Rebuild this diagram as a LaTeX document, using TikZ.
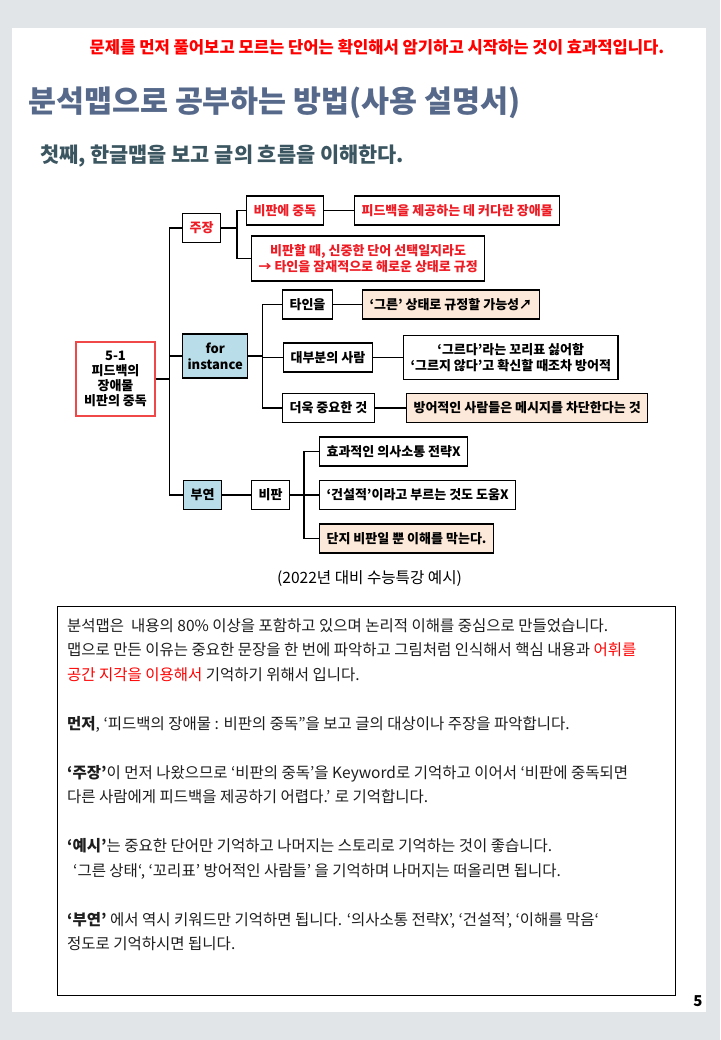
\documentclass[tikz,border=0pt]{standalone}
\usepackage{fontspec}
\setmainfont{Noto Sans CJK KR}
\usepackage{tikz}
\usetikzlibrary{positioning}

\definecolor{pagegray}{HTML}{E2E5E7}
\definecolor{titleblue}{HTML}{57698A}
\definecolor{subteal}{HTML}{3B5660}
\definecolor{treered}{HTML}{EE1C25}
\definecolor{rootred}{HTML}{F04848}
\definecolor{boxblue}{HTML}{B9DEE9}
\definecolor{boxpeach}{HTML}{FDE9D9}
\definecolor{bodyblack}{HTML}{1E1E1E}

\begin{document}
\begin{tikzpicture}[x=1pt,y=-1pt,
	box/.style={draw,line width=1.1pt,inner xsep=7pt,inner ysep=2pt,minimum height=29pt,anchor=west,align=center,
		font=\bfseries\fontsize{13}{16}\selectfont},
	redtxt/.style={text=treered},
	blue/.style={fill=boxblue},
	peach/.style={fill=boxpeach},
	link/.style={line width=1.1pt}]
	\useasboundingbox (0,0) rectangle (720,1040);
	\fill[pagegray] (0,0) rectangle (720,1040);
	\fill[white] (12,28) rectangle (706,1012);

	% header
	\node[text=red,font=\bfseries\fontsize{16.6}{19}\selectfont] (hint) at (377,47) {문제를 먼저 풀어보고 모르는 단어는 확인해서 암기하고 시작하는 것이 효과적입니다.};
	\node[anchor=west,inner sep=0pt,text=titleblue,font=\bfseries\fontsize{30.4}{34}\selectfont] (title) at (28,103) {분석맵으로 공부하는 방법(사용 설명서)};
	\node[anchor=west,inner sep=0pt,text=subteal,font=\bfseries\fontsize{20.8}{24}\selectfont] (sub) at (40,156) {첫째, 한글맵을 보고 글의 흐름을 이해한다.};

	% map
	\node[draw=rootred,line width=1.5pt,minimum width=79pt,minimum height=74pt,align=center,inner sep=1pt,
		font=\bfseries\fontsize{13}{15}\selectfont] (root) at (115.5,379) {5-1\\피드백의\\장애물\\비판의 중독};
	\node[box,redtxt] (jujang) at (182,228) {주장};
	\node[box,blue,minimum height=44pt,inner xsep=5pt] (forinst) at (182,356) {for\\instance};
	\node[box,blue] (buyeon) at (183,495) {부연};

	\node[box,redtxt] (bipanjungdok) at (246,210.5) {비판에 중독};
	\node[box,redtxt] (feedback) at (354,210.5) {피드백을 제공하는 데 커다란 장애물};
	\node[box,redtxt,minimum height=45pt] (careful) at (251,258.5) {비판할 때, 신중한 단어 선택일지라도\\→ 타인을 잠재적으로 해로운 상태로 규정};

	\node[box] (tain) at (282,304.5) {타인을};
	\node[box,peach] (greun) at (362,304.5) {‘그른’ 상태로 규정할 가능성↗};
	\node[box] (most) at (283,357.5) {대부분의 사람};
	\node[box,minimum height=44pt] (label) at (403,357.5) {‘그르다’라는 꼬리표 싫어함\\‘그르지 않다’고 확신할 때조차 방어적};
	\node[box] (more) at (282,408) {더욱 중요한 것};
	\node[box,peach] (block) at (406,408) {방어적인 사람들은 메시지를 차단한다는 것};

	\node[box] (bipan) at (251,495) {비판};
	\node[box] (effect) at (319,451.5) {효과적인 의사소통 전략X};
	\node[box] (constr) at (319,495) {‘건설적’이라고 부르는 것도 도움X};
	\node[box,peach] (only) at (319,538.5) {단지 비판일 뿐 이해를 막는다.};

	\draw[link,line width=1.8pt] (root.east) -- ++(14,0);
	\draw[link] (root.east) -- ++(14,0) |- (jujang.west);
	\draw[link] (root.east) -- ++(14,0) |- (forinst.west);
	\draw[link] (root.east) -- ++(14,0) |- (buyeon.west);
	\draw[link] (jujang.east) -- ++(16,0) |- (bipanjungdok.west);
	\draw[link] (jujang.east) -- ++(16,0) |- (careful.west);
	\draw[link] (bipanjungdok) -- (feedback);
	\draw[link] (forinst.east) -- ++(14,0) |- (tain.west);
	\draw[link] (forinst.east) -- ++(14,0) |- (most.west);
	\draw[link] (forinst.east) -- ++(14,0) |- (more.west);
	\draw[link] (tain) -- (greun);
	\draw[link] (most) -- (label);
	\draw[link] (more) -- (block);
	\draw[link] (buyeon) -- (bipan);
	\draw[link] (bipan.east) -- ++(14,0) |- (effect.west);
	\draw[link] (bipan.east) -- ++(14,0) |- (constr.west);
	\draw[link] (bipan.east) -- ++(14,0) |- (only.west);

	\node[font=\fontsize{15.6}{18}\selectfont] (source) at (369.5,579) {(2022년 대비 수능특강 예시)};

	% explanation
	\draw[line width=1pt] (57,606) rectangle (675,995);
	\node[anchor=north west,align=left,inner sep=0pt,text=bodyblack,font=\fontsize{15.5}{24.5}\selectfont] (memo) at (67,618) {%
		분석맵은\ \ 내용의 80\% 이상을 포함하고 있으며 논리적 이해를 중심으로 만들었습니다.\\
		맵으로 만든 이유는 중요한 문장을 한 번에 파악하고 그림처럼 인식해서 핵심 내용과 \textcolor{red}{어휘를}\\
		\textcolor{red}{공간 지각을 이용해서} 기억하기 위해서 입니다.\\[24.5pt]
		\textbf{먼저}, ‘피드백의 장애물 : 비판의 중독”을 보고 글의 대상이나 주장을 파악합니다.\\[24.5pt]
		\textbf{‘주장’}이 먼저 나왔으므로 ‘비판의 중독’을 Keyword로 기억하고 이어서 ‘비판에 중독되면\\
		다른 사람에게 피드백을 제공하기 어렵다.’ 로 기억합니다.\\[24.5pt]
		\textbf{‘예시’}는 중요한 단어만 기억하고 나머지는 스토리로 기억하는 것이 좋습니다.\\
		\hspace*{6pt}‘그른 상태‘, ‘꼬리표’ 방어적인 사람들’ 을 기억하며 나머지는 떠올리면 됩니다.\\[24.5pt]
		\textbf{‘부연’} 에서 역시 키워드만 기억하면 됩니다. ‘의사소통 전략X’, ‘건설적’, ‘이해를 막음‘\\
		정도로 기억하시면 됩니다.};

	\node[font=\bfseries\fontsize{15}{18}\selectfont] (pageno) at (698,1001) {5};
\end{tikzpicture}
\end{document}
